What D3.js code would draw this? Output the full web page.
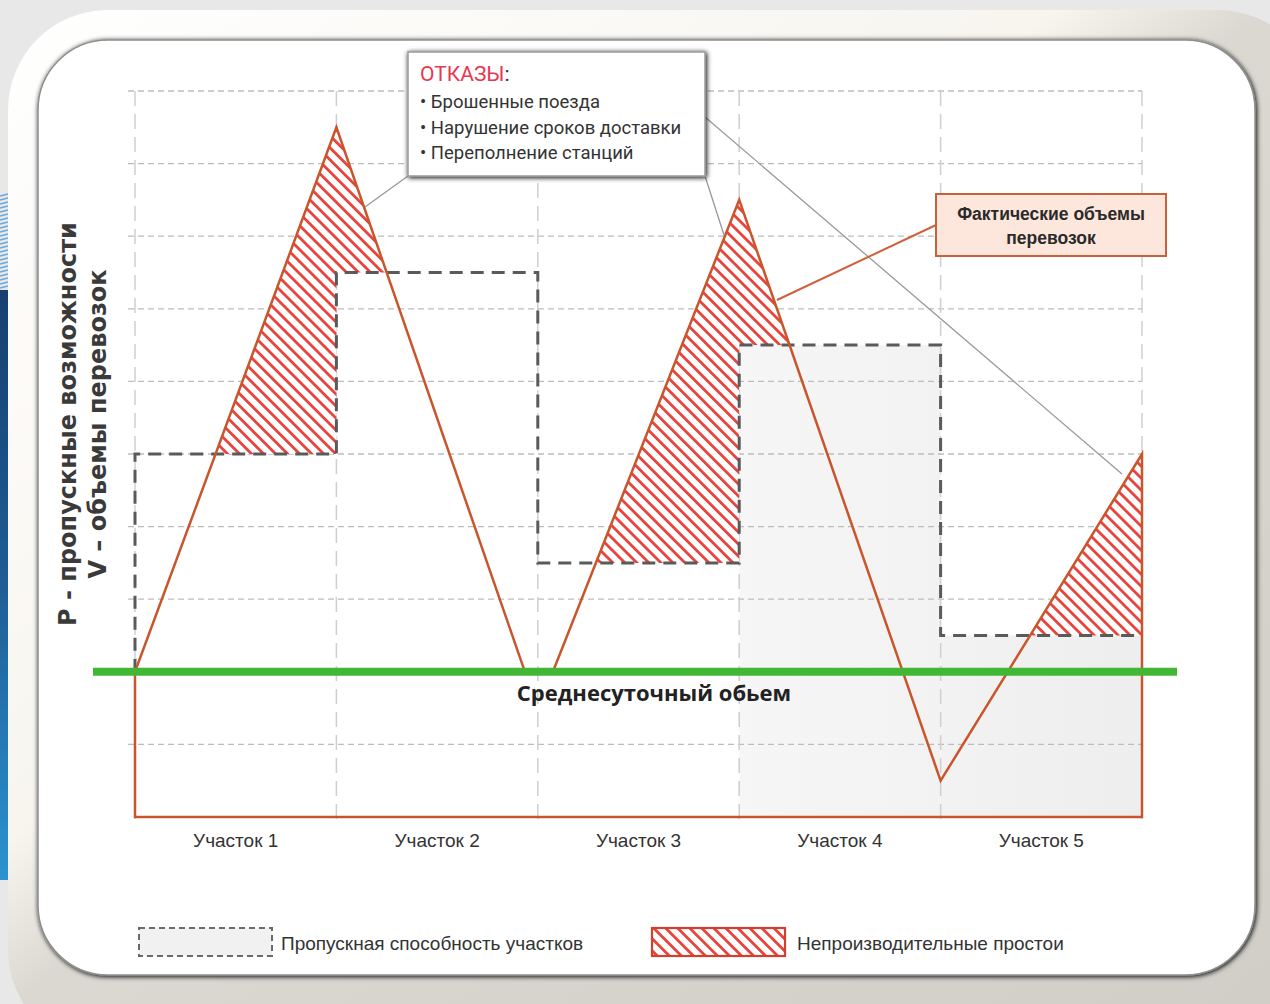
<!DOCTYPE html>
<html><head><meta charset="utf-8">
<script src="https://cdn.jsdelivr.net/npm/d3@7"></script>
<style>html,body{margin:0;padding:0;background:#e8e8e8;overflow:hidden}</style>
</head><body>
<svg id="c" width="1270" height="1004"></svg>
<script>
// ---- data ----
const categories = ["Участок 1", "Участок 2", "Участок 3", "Участок 4", "Участок 5"];
const capacity = [5, 7.5, 3.5, 6.5, 2.5];            // P – пропускные возможности
const actualX = [0, 1, 1.936, 2.075, 3, 4, 5];        // positions along sections
const actualV = [2, 9.5, 2, 2, 8.5, 0.5, 5];          // V – фактические объемы
const avgDaily = 2;                                    // среднесуточный объем
const yTicks = [1, 2, 3, 4, 5, 6, 7, 8, 9, 10];
const xTicks = [0, 1, 2, 3, 4, 5];
const refusals = ["Брошенные поезда", "Нарушение сроков доставки", "Переполнение станций"];

const svg = d3.select("#c");
const defs = svg.append("defs");

// ---- slide background ----
const fg = defs.append("linearGradient").attr("id","frameG").attr("x1",0).attr("y1",0).attr("x2",1).attr("y2",1);
fg.append("stop").attr("offset",0).attr("stop-color","#ffffff");
fg.append("stop").attr("offset",0.40).attr("stop-color","#f7f5ee");
fg.append("stop").attr("offset",0.48).attr("stop-color","#dad8d1");
fg.append("stop").attr("offset",1).attr("stop-color","#cfcdc6");
const bg = defs.append("linearGradient").attr("id","blueG").attr("x1",0).attr("y1",0).attr("x2",0).attr("y2",1);
bg.append("stop").attr("offset",0).attr("stop-color","#17406f");
bg.append("stop").attr("offset",0.5).attr("stop-color","#1f5d94");
bg.append("stop").attr("offset",1).attr("stop-color","#2b93cf");
const sh = defs.append("filter").attr("id","sh").attr("x","-5%").attr("y","-5%").attr("width","110%").attr("height","110%");
sh.append("feGaussianBlur").attr("in","SourceAlpha").attr("stdDeviation",2.5);
sh.append("feOffset").attr("dx",1).attr("dy",1).attr("result","b");
const fm = sh.append("feMerge"); fm.append("feMergeNode").attr("in","b"); fm.append("feMergeNode").attr("in","SourceGraphic");

svg.append("rect").attr("width",1270).attr("height",1004).attr("fill","#e8e8e8");
// blue decorations
svg.append("rect").attr("x",0).attr("y",290).attr("width",8).attr("height",590).attr("fill","url(#blueG)");
for (let yy = 196; yy < 290; yy += 4) {
  svg.append("line").attr("x1",0).attr("x2",8).attr("y1",yy).attr("y2",yy-2).attr("stroke","#6aa7de").attr("stroke-width",1.4);
}
svg.append("path").attr("d","M1150,1004 L1270,1004 L1270,920 Q1262,985 1150,1004 Z").attr("fill","#2a8fd0");
svg.append("path").attr("d","M1200,1004 L1270,1004 L1270,975 Q1250,998 1200,1004 Z").attr("fill","#173f6e");
// frame
svg.append("rect").attr("x",8).attr("y",10).attr("width",1310).attr("height",1040).attr("rx",100).attr("fill","url(#frameG)");
svg.append("rect").attr("x",38).attr("y",40).attr("width",1217).attr("height",935).attr("rx",70)
  .attr("fill","#ffffff").attr("stroke","#8e8e8e").attr("stroke-width",1.5).attr("filter","url(#sh)");

// ---- scales ----
const x = d3.scaleLinear().domain([0, 5]).range([135, 1142]);
const y = d3.scaleLinear().domain([0, 10]).range([817, 91]);

// capacity fill gradient
const cg = defs.append("linearGradient").attr("id","capG").attr("gradientUnits","userSpaceOnUse")
  .attr("x1",x(0)).attr("x2",x(5)).attr("y1",0).attr("y2",0);
cg.append("stop").attr("offset",0).attr("stop-color","#ffffff");
cg.append("stop").attr("offset",0.599).attr("stop-color","#ffffff");
cg.append("stop").attr("offset",0.601).attr("stop-color","#f6f6f6");
cg.append("stop").attr("offset",1).attr("stop-color","#eeeeee");

// hatch pattern
const hp = defs.append("pattern").attr("id","hatch").attr("patternUnits","userSpaceOnUse")
  .attr("width",8.5).attr("height",8.5).attr("patternTransform","rotate(-45)");
hp.append("rect").attr("width",8.5).attr("height",8.5).attr("fill","#ffffff");
hp.append("rect").attr("x",0).attr("width",2.8).attr("height",8.5).attr("fill","#e8433d");

const g = svg.append("g");

// capacity rect fills
g.selectAll("rect.cap").data(capacity).join("rect").attr("class","cap")
  .attr("x",(d,i)=>x(i)).attr("width",(d,i)=>x(i+1)-x(i))
  .attr("y",d=>y(d)).attr("height",d=>y(0)-y(d)).attr("fill","url(#capG)");

// grid
g.selectAll("line.hg").data(yTicks).join("line").attr("class","hg")
  .attr("x1",x(0)-7).attr("x2",x(5)).attr("y1",d=>y(d)).attr("y2",d=>y(d))
  .attr("stroke","#bdbdbd").attr("stroke-width",1.3).attr("stroke-dasharray","6,4");
g.selectAll("line.vg").data(xTicks).join("line").attr("class","vg")
  .attr("x1",d=>x(d)).attr("x2",d=>x(d)).attr("y1",y(10)).attr("y2",y(0)+9)
  .attr("stroke","#cfcfcf").attr("stroke-width",1.5).attr("stroke-dasharray","15,8");

// hatched overload areas: above capacity & below actual
const pts = actualX.map((d,i)=>({x:d, v:actualV[i]}));
const clip = defs.append("clipPath").attr("id","belowActual");
clip.append("path").attr("d", d3.area().x(d=>x(d.x)).y0(y(0)).y1(d=>y(d.v))(pts));
const capPts = capacity.map((d,i)=>({x:i, v:d})).concat([{x:5, v:capacity[4]}]);
g.append("path")
  .attr("d", d3.area().curve(d3.curveStepAfter).x(d=>x(d.x)).y0(y(10.5)).y1(d=>y(d.v))(capPts))
  .attr("fill","url(#hatch)").attr("clip-path","url(#belowActual)");

// capacity dashed step line
g.append("path")
  .attr("d", d3.line().curve(d3.curveStepAfter).x(d=>x(d.x)).y(d=>y(d.v))([{x:0, v:avgDaily}].concat(capPts)))
  .attr("fill","none").attr("stroke","#5a5a5a").attr("stroke-width",3).attr("stroke-dasharray","13,8");

// actual volumes (closed outline to baseline)
const outline = [{x:0, v:0}].concat(pts).concat([{x:5, v:0}]);
g.append("path").attr("d", d3.line().x(d=>x(d.x)).y(d=>y(d.v))(outline) + "Z")
  .attr("fill","none").attr("stroke","#c9552c").attr("stroke-width",2.5).attr("stroke-linejoin","miter");

// average daily line (on top)
g.append("line").attr("x1",x(0)-42).attr("x2",x(5)+35).attr("y1",y(avgDaily)).attr("y2",y(avgDaily))
  .attr("stroke","#42b635").attr("stroke-width",8);
g.append("text").attr("x",654).attr("y",y(avgDaily)+29).attr("text-anchor","middle")
  .attr("font-family","Open Sans").attr("font-weight",700).attr("font-size",22).attr("fill","#222")
  .text("Среднесуточный обьем");

// category labels
g.selectAll("text.cat").data(categories).join("text").attr("class","cat")
  .attr("x",(d,i)=>(x(i)+x(i+1))/2).attr("y",y(0)+30).attr("text-anchor","middle")
  .attr("font-family","Liberation Sans").attr("font-size",19).attr("fill","#333").text(d=>d);

// y axis title
const yt = [["P - пропускные возможности", 76], ["V – объемы перевозок", 106]];
yt.forEach(([t, bx]) => {
  svg.append("text").attr("transform",`translate(${bx},424) rotate(-90)`).attr("text-anchor","middle")
    .attr("font-family","DejaVu Sans").attr("font-weight","bold").attr("font-size",24).attr("fill","#3a3a3a").text(t);
});

// ---- callout: отказы ----
const ann = svg.append("g");
ann.append("line").attr("x1",408).attr("y1",176).attr("x2",365).attr("y2",207).attr("stroke","#999").attr("stroke-width",1.3);
ann.append("line").attr("x1",705).attr("y1",176).attr("x2",724).attr("y2",235).attr("stroke","#999").attr("stroke-width",1.3);
ann.append("line").attr("x1",705).attr("y1",117).attr("x2",1122).attr("y2",474).attr("stroke","#999").attr("stroke-width",1.3);
ann.append("rect").attr("x",408).attr("y",52).attr("width",297).attr("height",124)
  .attr("fill","#fff").attr("stroke","#9a9a9a").attr("stroke-width",1.5).attr("filter","url(#sh)");
const t1 = ann.append("text").attr("x",420).attr("y",81).attr("font-family","Roboto").attr("font-size",21);
t1.append("tspan").attr("fill","#e8384f").text("ОТКАЗЫ");
t1.append("tspan").attr("fill","#333").text(":");
ann.selectAll("text.ref").data(refusals).join("text").attr("class","ref")
  .attr("x",420).attr("y",(d,i)=>108+i*25.5).attr("font-family","Roboto").attr("font-size",18.5).attr("fill","#333")
  .text(d=>"• " + d);

// ---- callout: фактические объемы ----
ann.append("line").attr("x1",936).attr("y1",225).attr("x2",777).attr("y2",300).attr("stroke","#d0603a").attr("stroke-width",2);
ann.append("rect").attr("x",936).attr("y",194).attr("width",230).attr("height",62)
  .attr("fill","#fde6dc").attr("stroke","#c8603a").attr("stroke-width",2);
["Фактические объемы","перевозок"].forEach((t,i)=>{
  ann.append("text").attr("x",1051).attr("y",220+i*24).attr("text-anchor","middle")
    .attr("font-family","Liberation Sans").attr("font-weight","bold").attr("font-size",17.5).attr("fill","#2a2a2a").text(t);
});

// ---- legend ----
const lg = svg.append("g");
lg.append("rect").attr("x",139).attr("y",928).attr("width",133).attr("height",28)
  .attr("fill","#f1f1f1").attr("stroke","#6a6a6a").attr("stroke-width",2).attr("stroke-dasharray","6,4");
lg.append("text").attr("x",281).attr("y",950).attr("font-family","Liberation Sans").attr("font-size",19).attr("fill","#333")
  .text("Пропускная способность участков");
lg.append("rect").attr("x",652).attr("y",928).attr("width",133).attr("height",28)
  .attr("fill","url(#hatch)").attr("stroke","#d0402e").attr("stroke-width",2.2);
lg.append("text").attr("x",797).attr("y",950).attr("font-family","Liberation Sans").attr("font-size",19).attr("fill","#333")
  .text("Непроизводительные простои");
</script>
</body></html>
